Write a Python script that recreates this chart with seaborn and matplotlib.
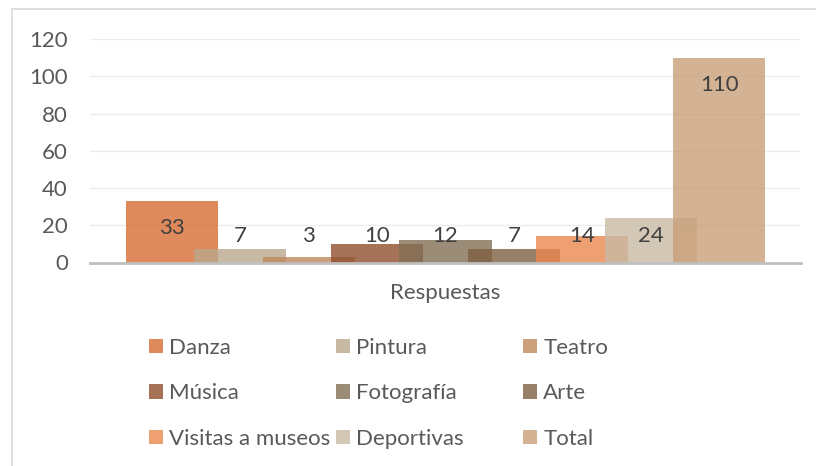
import matplotlib
matplotlib.use("Agg")
import matplotlib.pyplot as plt
from matplotlib.patches import Patch, Rectangle
import pandas as pd
import seaborn as sns

# Survey results: one category, nine activity series
categoria = ["Respuestas"]
series = ["Danza", "Pintura", "Teatro", "Música", "Fotografía", "Arte",
          "Visitas a museos", "Deportivas", "Total"]
valores = [33, 7, 3, 10, 12, 7, 14, 24, 110]
colores = ["#d86d33", "#baa88c", "#be885b", "#904f2e", "#826f56",
           "#7d5f42", "#ec8850", "#c9baa4", "#c9a079"]
yticks = [0, 20, 40, 60, 80, 100, 120]

df = pd.DataFrame({"grupo": categoria * len(series), "serie": series, "valor": valores})

sns.set_theme(style="white")
plt.rcParams["font.family"] = ["Lato", "DejaVu Sans"]

FS = 16
fig = plt.figure(figsize=(8.16, 4.66), dpi=100)
ax = fig.add_axes([90 / 816, (466 - 262.5) / 466, 711 / 816, 223.5 / 466])

sns.barplot(data=df, x="grupo", y="valor", hue="serie", hue_order=series,
            palette=colores, width=0.866, alpha=0.8, saturation=1,
            linewidth=0, legend=False, errorbar=None, ax=ax)

# Widen the bars so neighbouring series overlap
ancho = 0.1294
for p in ax.patches:
    c = p.get_x() + p.get_width() / 2
    p.set_x(c - ancho / 2)
    p.set_width(ancho)

# Value labels just inside the top of each bar, kept above the axis
for p, v in zip(ax.patches, valores):
    c = p.get_x() + p.get_width() / 2
    ax.text(c, max(v - 14.5, 14.0), str(v), ha="center", va="center",
            fontsize=FS, color="#404040")

ax.set_xlim(-0.5, 0.5)
ax.set_ylim(0, 120)
ax.set_yticks(yticks)
ax.set_yticklabels([str(t) for t in yticks])
ax.set_xlabel("")
ax.set_ylabel("")
ax.grid(axis="y", color="#ececec", linewidth=1.0)
ax.set_axisbelow(True)
for s in ["top", "right", "left"]:
    ax.spines[s].set_visible(False)
ax.spines["bottom"].set_color("#bfbfbf")
ax.spines["bottom"].set_linewidth(2.0)
ax.spines["bottom"].set_zorder(5)
ax.tick_params(axis="both", length=0, labelsize=FS, colors="#595959")
ax.tick_params(axis="y", pad=16)
ax.tick_params(axis="x", pad=15)

# Legend laid out as three even columns
col_x = [149, 336, 523]
for k in range(3):
    handles = [Patch(facecolor=colores[i], alpha=0.8, edgecolor="none", label=series[i])
               for i in range(k, len(series), 3)]
    fig.legend(handles=handles, loc="upper left",
               bbox_to_anchor=(col_x[k] / 816, (466 - 338) / 466),
               frameon=False, fontsize=FS, labelcolor="#595959",
               handlelength=0.63, handleheight=0.63, handletextpad=0.28,
               labelspacing=1.14, borderpad=0, borderaxespad=0)

# Chart area border
fig.patches.append(Rectangle((12 / 816, -0.1), 1.2, 1.1 - 9 / 466,
                             transform=fig.transFigure, fill=False,
                             edgecolor="#d9d9d9", linewidth=1.2))

fig.savefig("out.png", dpi=100)
